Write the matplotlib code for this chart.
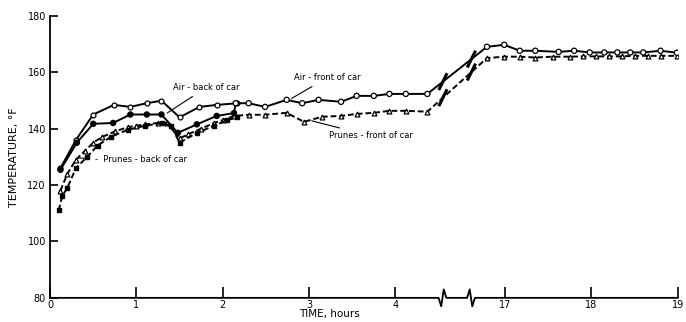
"""Car temperature chart: air and prunes, front and back of car"""
import numpy as np
import matplotlib
matplotlib.use("Agg")
import matplotlib.pyplot as plt

# hours after the axis break are shifted left by this amount
BREAK_SHIFT = 11.73

# Air - back of car (open circles)
air_back_t = [0.12, 0.30, 0.50, 0.74, 0.93, 1.12, 1.29, 1.50, 1.73, 1.93, 2.17]
air_back_T = [126, 136, 145, 148.4, 147.7, 149, 149.9, 144, 147.7, 148.4, 149]

# Air - front of car (filled circles first, open circles after 2.15 h)
air_front_t = [0.12, 0.31, 0.50, 0.73, 0.93, 1.12, 1.29, 1.48, 1.70, 1.93, 2.13,
               2.15, 2.30, 2.49, 2.74, 2.92, 3.11, 3.37, 3.55, 3.75, 3.93, 4.12, 4.37,
               16.79, 16.99, 17.17, 17.35, 17.62, 17.80, 17.98, 18.15, 18.30,
               18.45, 18.60, 18.80, 18.99]
air_front_T = [125.4, 135, 141.7, 142, 145, 145, 145, 138.5, 141.5, 144.5, 145.5,
               149, 149, 147.7, 150.2, 149, 150.2, 149.5, 151.6, 151.6, 152.3, 152.3, 152.3,
               169, 169.7, 167.6, 167.6, 167.2, 167.6, 167.0, 167.0, 167.0,
               167.0, 167.0, 167.6, 166.9]
air_front_filled = [t < 2.14 for t in air_front_t]

# Prunes - front of car (triangles, dashed)
prunes_front_t = [0.12, 0.20, 0.30, 0.40, 0.50, 0.60, 0.75, 0.90, 1.00, 1.10, 1.25,
                  1.35, 1.50, 1.60, 1.75, 1.90, 2.00, 2.13,
                  2.30, 2.49, 2.74, 2.94, 3.15, 3.37, 3.55, 3.75, 3.93, 4.12, 4.37,
                  16.79, 16.99, 17.17, 17.35, 17.55, 17.75, 17.90, 18.05, 18.20,
                  18.35, 18.50, 18.65, 18.80, 18.99]
prunes_front_T = [118, 124, 129, 132, 135, 137, 139, 140.5, 141, 141.5, 142,
                  142, 136.5, 138, 140, 142, 143, 144.5,
                  144.9, 144.9, 145.6, 142.4, 144.2, 144.5, 145.2, 145.6, 146.3, 146.3, 146,
                  165, 165.5, 165.5, 165.2, 165.5, 165.5, 165.6, 165.6, 165.6,
                  165.6, 165.8, 165.8, 165.8, 165.8]

# Prunes - back of car (filled squares, dashed)
prunes_back_t = [0.10, 0.14, 0.20, 0.30, 0.43, 0.55, 0.70, 0.90, 1.10, 1.30,
                 1.40, 1.50, 1.70, 1.90, 2.05, 2.17]
prunes_back_T = [111, 116, 119, 126, 130, 134, 137, 139.6, 141, 142,
                 141, 135, 138.5, 141, 143, 144]

x_ticks_h = [0, 1, 2, 3, 4, 17, 18, 19]
y_ticks = [80, 100, 120, 140, 160, 180]


def pos(hours):
    """hours -> position on the broken time axis"""
    h = np.asarray(hours, dtype=float)
    return np.where(h > 10, h - BREAK_SHIFT, h)


plt.rcParams['font.family'] = ['DejaVu Sans']
fig = plt.figure(figsize=(6.86, 3.22), dpi=100)
ax = fig.add_axes([0.073, 0.075, 0.915, 0.876])

lw = 1.4
ax.plot(pos(air_back_t), air_back_T, '-', color='k', lw=lw, marker='o',
        ms=3.5, mfc='white', mec='k', mew=0.9)

ax.plot(pos(air_front_t), air_front_T, '-', color='k', lw=lw)
fc = ['k' if f else 'white' for f in air_front_filled]
ax.scatter(pos(air_front_t), air_front_T, s=14, c=fc, edgecolors='k',
           linewidths=0.9, zorder=3)

ax.plot(pos(prunes_front_t), prunes_front_T, '--', color='k', lw=lw,
        dashes=(3, 1.5), marker='^', ms=3.5, mfc='white', mec='k', mew=0.9)
ax.plot(pos(prunes_back_t), prunes_back_T, '--', color='k', lw=lw,
        dashes=(3, 1.5), marker='s', ms=3, mfc='k', mec='k')

# break marks on the two rising lines
for tt, TT in [(air_front_t, air_front_T), (prunes_front_t, prunes_front_T)]:
    for ub in (4.55, 4.88):
        yb = np.interp(ub, pos(tt), TT)
        ax.plot([ub - 0.04, ub + 0.04], [yb - 2.5, yb + 2.5], color='k', lw=2.2)

ax.set_xlim(0, pos(19))
ax.set_ylim(80, 180)
ax.spines['top'].set_visible(False)
ax.spines['right'].set_visible(False)
ax.spines['left'].set_linewidth(1.3)
ax.spines['bottom'].set_visible(False)

# bottom axis with break zigzags
tr = ax.get_xaxis_transform()
ax.plot([0, 4.50, 4.53, 4.56, 4.59, 4.83, 4.86, 4.89, 4.92, pos(19)],
        [0, 0, -0.03, 0.03, 0, 0, 0.03, -0.03, 0, 0],
        transform=tr, color='k', lw=1.3, clip_on=False)

ax.set_xticks(pos(x_ticks_h))
ax.set_xticklabels([str(h) for h in x_ticks_h])
ax.set_yticks(y_ticks)
ax.set_yticklabels([str(v) for v in y_ticks])
ax.tick_params(axis='x', direction='in', length=8, width=1.2, labelsize=7, pad=1.5)
ax.tick_params(axis='y', direction='in', length=6, width=1.2, labelsize=7, pad=3)

fig.text(0.48, 0.025, 'TIME, hours', fontsize=7.5, ha='center', va='center')
ax.set_ylabel('TEMPERATURE, °F', fontsize=8, labelpad=6)

arrow = dict(arrowstyle='-', color='k', lw=0.8)
ax.annotate('Air - back of car', xy=(1.33, 145), xytext=(1.42, 154.5),
            fontsize=6, va='center', arrowprops=arrow)
ax.annotate('Air - front of car', xy=(2.77, 150.2), xytext=(2.82, 158),
            fontsize=6, va='center', arrowprops=arrow)
ax.annotate('Prunes - front of car', xy=(3.0, 143), xytext=(3.23, 137.4),
            fontsize=6, va='center', arrowprops=arrow)
ax.annotate('-  Prunes - back of car', xy=(0.29, 129.6), xytext=(0.52, 129),
            fontsize=6, va='center', arrowprops=arrow)

fig.savefig('out.png', dpi=100)
